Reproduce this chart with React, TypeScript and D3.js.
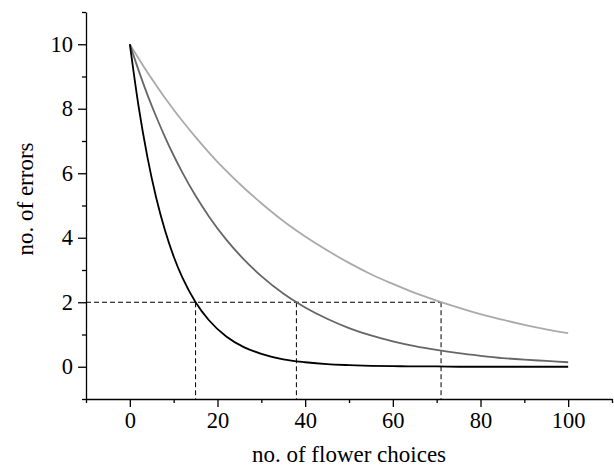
import React, { useEffect, useRef } from "react";
import * as d3 from "d3";

const choices = [0, 2, 4, 6, 8, 10, 12, 15, 18, 22, 26, 30, 35, 40, 45, 50, 55, 60, 65, 70, 75, 80, 85, 90, 95, 100];
const errorsFast = [10, 8.07, 6.51, 5.25, 4.24, 3.42, 2.76, 2.0, 1.45, 0.94, 0.61, 0.4, 0.23, 0.14, 0.08, 0.05, 0.03, 0.02, 0.01, 0.01, 0, 0, 0, 0, 0, 0];
const errorsMid = [10, 9.19, 8.44, 7.76, 7.13, 6.55, 6.02, 5.3, 4.67, 3.94, 3.33, 2.81, 2.27, 1.84, 1.49, 1.2, 0.97, 0.79, 0.64, 0.52, 0.42, 0.34, 0.27, 0.22, 0.18, 0.14];
const errorsSlow = [10, 9.56, 9.13, 8.73, 8.34, 7.97, 7.62, 7.12, 6.65, 6.07, 5.55, 5.07, 4.52, 4.04, 3.61, 3.22, 2.87, 2.57, 2.29, 2.05, 1.83, 1.63, 1.46, 1.3, 1.16, 1.04];
const seriesColors = ["#000000", "#666666", "#aaaaaa"];
const thresholdErrors = 2;
const thresholdChoices = [15, 38, 71];
const xMajorTicks = [0, 20, 40, 60, 80, 100];
const xMinorTicks = [-10, 10, 30, 50, 70, 90, 110];
const yMajorTicks = [0, 2, 4, 6, 8, 10];
const yMinorTicks = [-1, 1, 3, 5, 7, 9, 11];

const W = 614;
const H = 466;
const FONT = "'Liberation Serif', 'Times New Roman', serif";

export default function App() {
  const ref = useRef<SVGSVGElement | null>(null);

  useEffect(() => {
    const svg = d3.select(ref.current);
    svg.selectAll("*").remove();

    const x = d3.scaleLinear().domain([-10, 110]).range([86, 612]);
    const y = d3.scaleLinear().domain([-1, 11]).range([399, 12]);

    const fmt = (d: any) => String(d);

    // x axis
    const gx = svg.append("g").attr("transform", `translate(0,${y(-1)})`);
    gx.call(d3.axisBottom(x).tickValues(xMajorTicks).tickSize(8).tickSizeOuter(0).tickPadding(5).tickFormat(fmt));
    const gx2 = svg.append("g").attr("transform", `translate(0,${y(-1)})`);
    gx2.call(d3.axisBottom(x).tickValues(xMinorTicks).tickSize(4).tickSizeOuter(0).tickFormat(() => ""));
    gx2.select(".domain").remove();

    // y axis
    const gy = svg.append("g").attr("transform", `translate(${x(-10)},0)`);
    gy.call(d3.axisLeft(y).tickValues(yMajorTicks).tickSize(8).tickSizeOuter(0).tickPadding(5).tickFormat(fmt));
    const gy2 = svg.append("g").attr("transform", `translate(${x(-10)},0)`);
    gy2.call(d3.axisLeft(y).tickValues(yMinorTicks).tickSize(4).tickSizeOuter(0).tickFormat(() => ""));
    gy2.select(".domain").remove();

    svg.selectAll(".domain").attr("stroke", "#000").attr("stroke-width", 1.3);
    svg.selectAll(".tick line").attr("stroke", "#000").attr("stroke-width", 1.3);
    svg.selectAll(".tick text")
      .attr("font-family", FONT)
      .attr("font-size", 22.5)
      .attr("fill", "#000");

    // dashed threshold lines
    const dash = svg.append("g").attr("stroke", "#000").attr("stroke-width", 1).attr("stroke-dasharray", "5,3").attr("fill", "none");
    dash.append("line")
      .attr("x1", x(-10)).attr("x2", x(d3.max(thresholdChoices)!))
      .attr("y1", y(thresholdErrors)).attr("y2", y(thresholdErrors));
    thresholdChoices.forEach((c) => {
      dash.append("line")
        .attr("x1", x(c)).attr("x2", x(c))
        .attr("y1", y(thresholdErrors)).attr("y2", y(-1));
    });

    // curves
    const series = [errorsSlow, errorsMid, errorsFast];
    const cols = [seriesColors[2], seriesColors[1], seriesColors[0]];
    const line = d3.line<number>()
      .x((_, i) => x(choices[i]))
      .y((d) => y(d))
      .curve(d3.curveMonotoneX);
    series.forEach((s, k) => {
      svg.append("path")
        .attr("d", line(s)!)
        .attr("fill", "none")
        .attr("stroke", cols[k])
        .attr("stroke-width", 1.8);
    });

    // axis titles
    svg.append("text")
      .attr("x", (x(-10) + x(110)) / 2)
      .attr("y", 462)
      .attr("text-anchor", "middle")
      .attr("font-family", FONT)
      .attr("font-size", 23)
      .text("no. of flower choices");

    svg.append("text")
      .attr("transform", `translate(33,199) rotate(-90)`)
      .attr("text-anchor", "middle")
      .attr("font-family", FONT)
      .attr("font-size", 23)
      .text("no. of errors");
  }, []);

  return (
    <svg
      ref={ref}
      width={W}
      height={H}
      style={{ position: "absolute", left: 0, top: 0, background: "#fff" }}
    />
  );
}
